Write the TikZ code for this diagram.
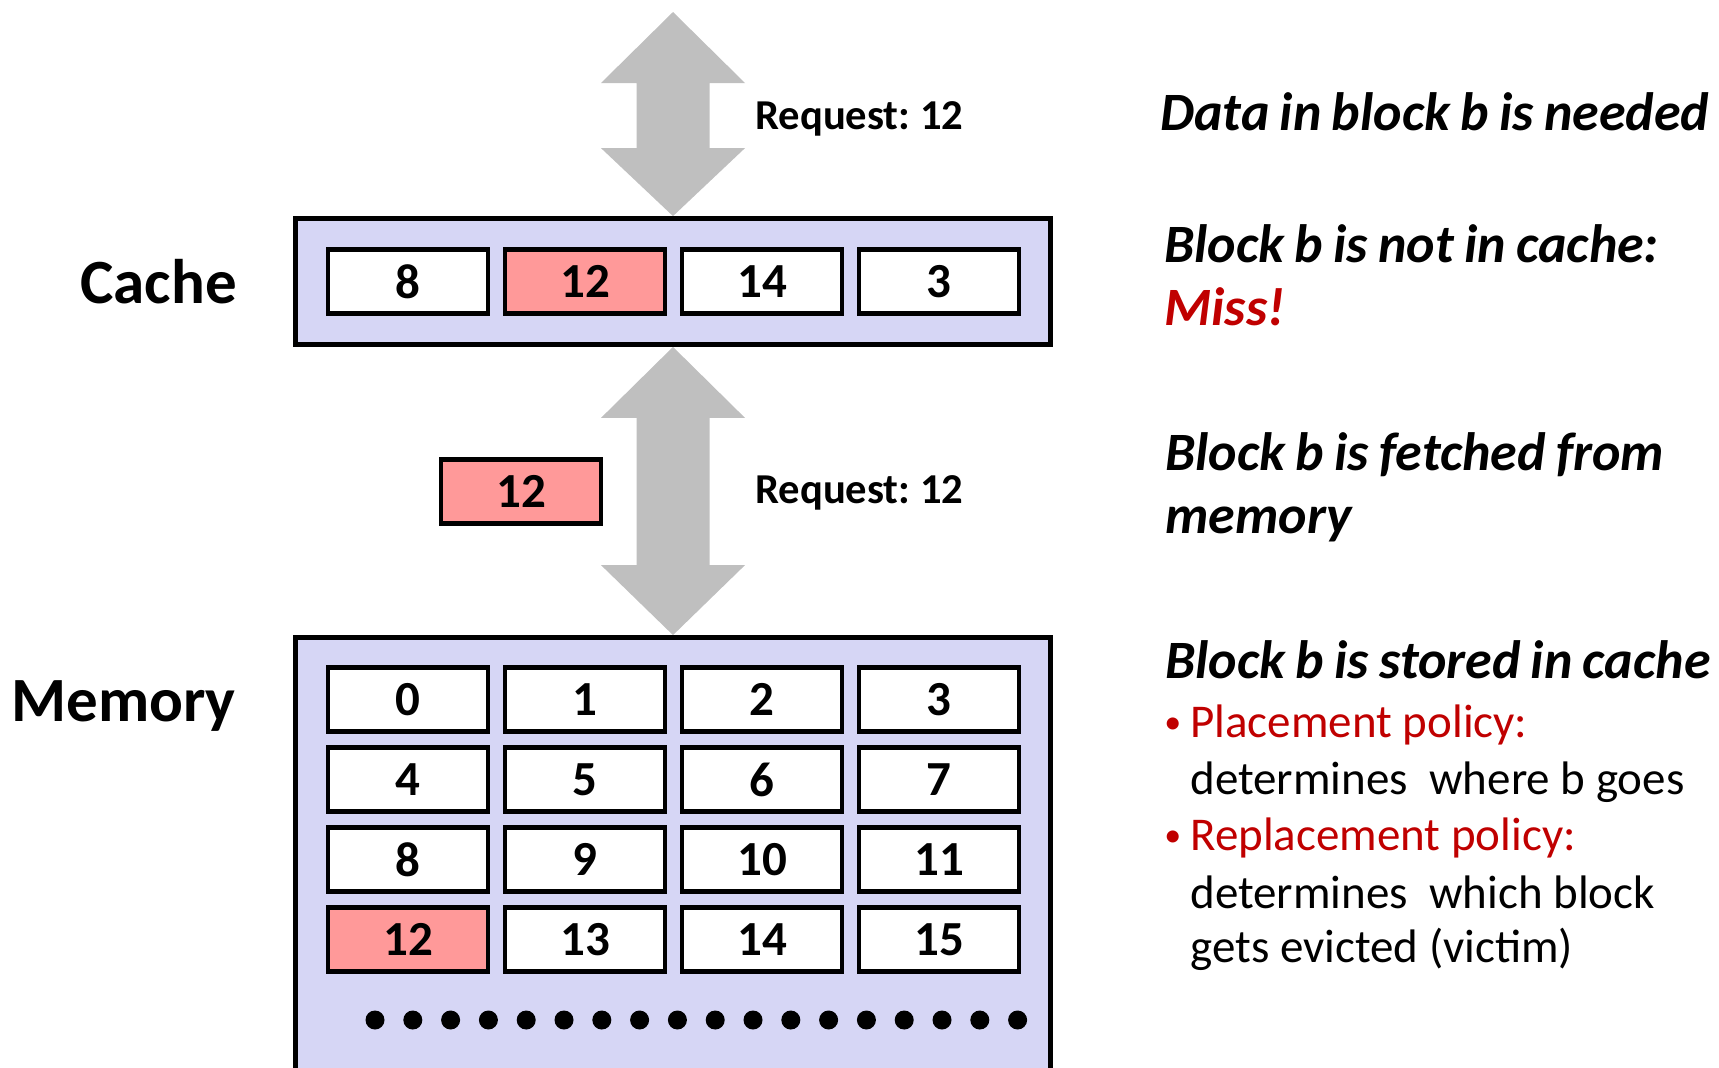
\documentclass[tikz,border=0pt]{standalone}
\usepackage{fontspec}
\setmainfont{Carlito}
\usetikzlibrary{calc}
\frenchspacing
\newcommand\mytightsp{\spaceskip=0.19em plus 0.05em\relax}
\definecolor{lav}{RGB}{214,214,245}
\definecolor{pinkc}{RGB}{255,153,153}
\definecolor{grayc}{RGB}{191,191,191}
\definecolor{redc}{RGB}{192,0,0}
\tikzset{
  outerbox/.style={draw=black, fill=lav, line width=2.4pt, inner sep=0pt},
  cellbox/.style={draw=black, fill=white, line width=2.25pt, minimum width=80pt, minimum height=32pt, inner sep=0pt, font=\fontsize{24.5}{29}\selectfont\bfseries},
  hot/.style={fill=pinkc},
  biglabel/.style={anchor=base west, inner sep=0pt, font=\fontsize{31.5}{38}\selectfont\bfseries},
  reqlabel/.style={anchor=base west, inner sep=0pt, font=\fontsize{21.3}{26}\selectfont\bfseries},
  stepnote/.style={anchor=base west, inner sep=0pt, font={\fontsize{27}{33}\selectfont\bfseries\itshape\mytightsp}},
  polnote/.style={anchor=base west, inner sep=0pt, font=\fontsize{23.5}{28}\selectfont},
  polbullet/.style={anchor=base west, inner sep=0pt, text=redc, font=\fontsize{17}{20}\selectfont},
  bigarrow/.style={fill=grayc, draw=none},
  memdot/.style={circle, fill=black, draw=none, minimum size=9.5pt, inner sep=0pt}
}
\begin{document}
\begin{tikzpicture}[x=0.5pt,y=-0.5pt]
\useasboundingbox (0,0) rectangle (1719,1067);
\clip (0,0) rectangle (1719,1067);

% containers
\node[outerbox, minimum width=377.5pt, minimum height=63pt] (cache) at (673,281.5) {};
\node[outerbox, minimum width=377.5pt, minimum height=230pt] (mem) at (673,867.5) {};

% cache cells
\foreach \v/\xx/\st [count=\i] in {8/408/, 12/585/hot, 14/762/, 3/939/}{
  \node[cellbox,\st] (c\i) at (\xx,281.5) {\v};
}

% memory cells
\foreach \r/\yy in {0/699.5,1/779.5,2/859.5,3/939.5}{
  \foreach \c/\xx in {0/408,1/585,2/762,3/939}{
    \pgfmathtruncatemacro{\n}{4*\r+\c}
    \ifnum\n=12
      \node[cellbox,hot] (m\n) at (\xx,\yy) {\n};
    \else
      \node[cellbox] (m\n) at (\xx,\yy) {\n};
    \fi
  }
}

% fetched block
\node[cellbox,hot] (fetched) at (521,491.5) {12};

% dots
\foreach \k in {0,...,17}{
  \node[memdot] (d\k) at ({375+37.8*\k},1020) {};
}

% double arrows
\coordinate (toptip) at (673,12);
\path (cache.north) coordinate (cn) (cache.south) coordinate (cs) (mem.north) coordinate (mn);
\fill[bigarrow] (toptip) -- ++(72,71) -- ++(-35.5,0) |- ($(cn)+(36.5,-68)$) -- ++(35.5,0) -- (cn) -- ++(-72,-68) -- ++(35.5,0) |- ($(toptip)+(-72,71)$) -- cycle;
\fill[bigarrow] (cs) -- ++(72,71) -- ++(-35.5,0) |- ($(mn)+(36.5,-70)$) -- ++(35.5,0) -- (mn) -- ++(-72,-70) -- ++(35.5,0) |- ($(cs)+(-72,71)$) -- cycle;

% labels
\node[biglabel] (lcache) at (80,303) {Cache};
\node[biglabel] (lmem) at (11,721) {Memory};
\node[reqlabel] (req1) at (755,129) {Request: 12};
\node[reqlabel] (req2) at (755,503) {Request: 12};

% notes
\node[stepnote] (n1) at (1160,130) {Data in block b is needed};
\node[stepnote] (n2) at (1164,262) {Block b is not in cache:};
\node[stepnote, text=redc] (n3) at (1164,325) {Miss!};
\node[stepnote] (n4) at (1165,470) {Block b is fetched from};
\node[stepnote] (n5) at (1165,533) {memory};
\node[stepnote] (n6) at (1165,678) {Block b is stored in cache};
\node[polbullet] (b1) at (1164,733) {•};
\node[polnote, text=redc] (p1) at (1190,737) {Placement policy:};
\node[polnote] (p2) at (1190,794) {determines\ \ where b goes};
\node[polbullet] (b2) at (1164,846) {•};
\node[polnote, text=redc] (p3) at (1190,850) {Replacement policy:};
\node[polnote] (p4) at (1190,908) {determines\ \ which block};
\node[polnote] (p5) at (1190,962) {gets evicted (victim)};
\end{tikzpicture}
\end{document}
